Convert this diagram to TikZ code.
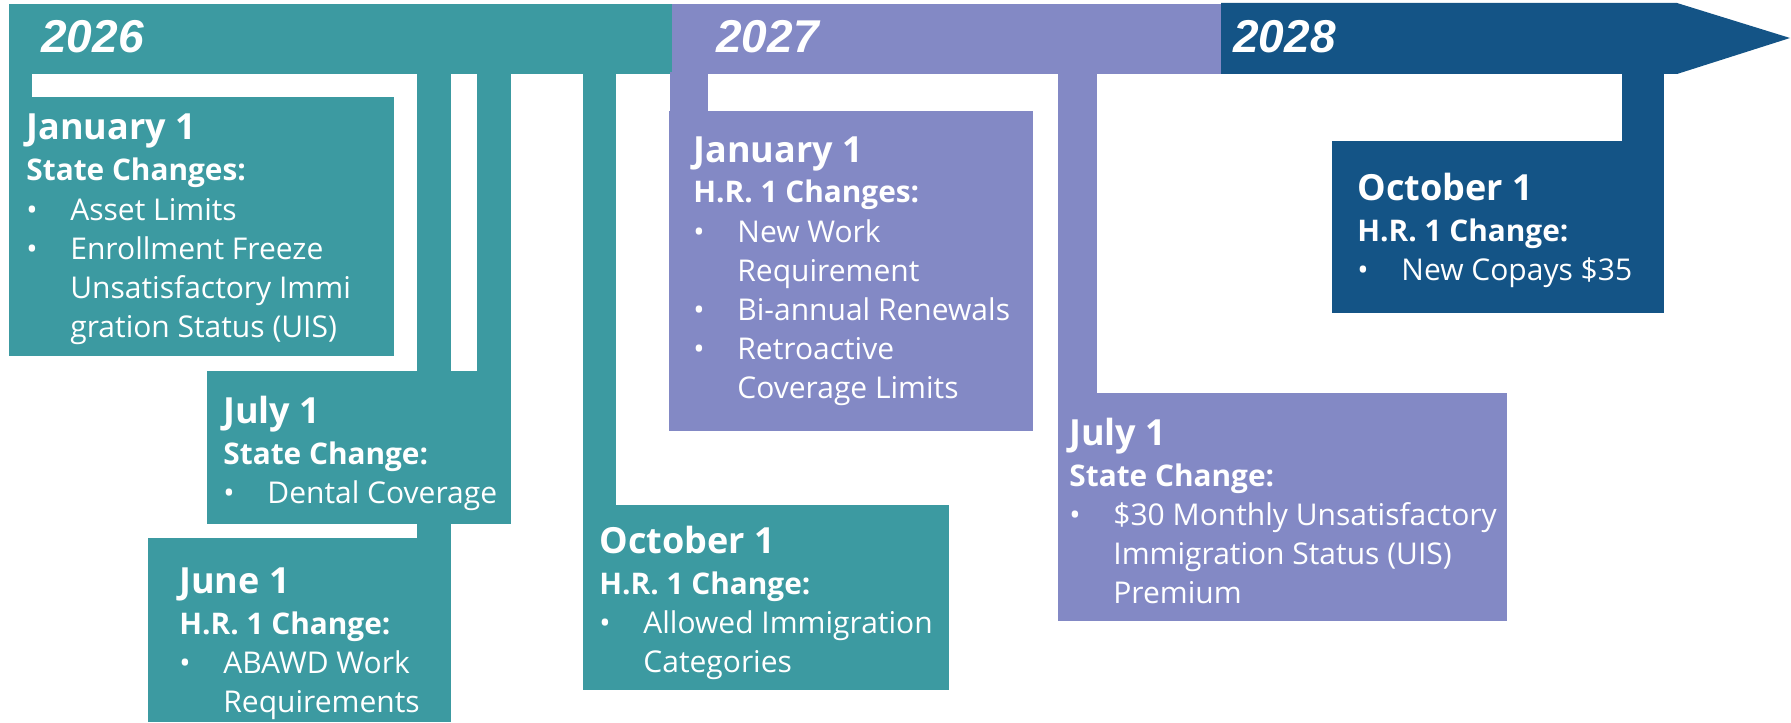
\documentclass[tikz,border=0pt]{standalone}
\usepackage{fontspec}
\setmainfont{Open Sans}
\newfontfamily\yearfont{Liberation Sans}
\usetikzlibrary{fit}
\definecolor{tealc}{RGB}{60,154,161}
\definecolor{purpc}{RGB}{131,137,197}
\definecolor{navyc}{RGB}{20,84,134}
\newcommand\hd[1]{{\fontsize{18}{19.5}\selectfont\bfseries #1\par}\vspace{1pt}}
\newcommand\sh[1]{{\fontsize{14.9}{19.5}\selectfont\bfseries #1\par}}
\newcommand\bu[1]{\makebox[22pt][l]{•}#1\par}
\newcommand\cn[1]{\hspace*{22pt}#1\par}
\newcommand\tb[1]{\parbox[t]{320pt}{\raggedright\fontsize{15}{19.5}\selectfont\lineskiplimit=-100pt\parindent=0pt\parskip=0pt #1}}
\begin{document}
\begin{tikzpicture}[x=0.5pt,y=-0.5pt,
  boxn/.style={inner sep=0pt, draw=none},
  txt/.style={anchor=base west, inner sep=0pt, text=white},
  yr/.style={anchor=base west, inner sep=0pt, text=white, font=\yearfont\bfseries\itshape\fontsize{23}{26}\selectfont}]
\useasboundingbox (0,0) rectangle (1791,722);
% band
\fill[tealc] (9,4) rectangle (672,74);
\fill[purpc] (672,4) rectangle (1221,74);
\fill[navyc] (1221,3) -- (1677,3) -- (1790,38) -- (1677,74) -- (1221,74) -- cycle;
\node[yr] (y26) at (41,53) {2026};
\node[yr] (y27) at (716,53) {2027};
\node[yr] (y28) at (1233,53) {2028};
% boxes
\node[boxn, fill=tealc, fit={(9,97)(394,356)}] (jan26) {};
\node[boxn, fill=tealc, fit={(207,371)(511,524)}] (jul26) {};
\node[boxn, fill=tealc, fit={(148,538)(451,722)}] (jun26) {};
\node[boxn, fill=tealc, fit={(583,505)(949,690)}] (oct26) {};
\node[boxn, fill=purpc, fit={(669,111)(1033,431)}] (jan27) {};
\node[boxn, fill=purpc, fit={(1058,393)(1507,621)}] (jul27) {};
\node[boxn, fill=navyc, fit={(1332,141)(1664,313)}] (oct28) {};
% stems
\fill[tealc] (9,72) rectangle (32,98);
\fill[tealc] (417,72) rectangle (451,539);
\fill[tealc] (477,72) rectangle (511,372);
\fill[tealc] (583,72) rectangle (616,506);
\fill[purpc] (670,72) rectangle (708,112);
\fill[purpc] (1058,72) rectangle (1097,394);
\fill[navyc] (1622,72) rectangle (1664,142);
% texts
\node[txt] (t1) at (26,140) {\tb{\hd{January 1}\sh{State Changes:}\bu{Asset Limits}\bu{Enrollment Freeze}\cn{Unsatisfactory Immi}\cn{gration Status (UIS)}}};
\node[txt] (t2) at (223,423) {\tb{\hd{July 1}\sh{State Change:}\bu{Dental Coverage}}};
\node[txt] (t3) at (179,593) {\tb{\hd{June 1}\sh{H.R. 1 Change:}\bu{ABAWD Work}\cn{Requirements}}};
\node[txt] (t4) at (599,553) {\tb{\hd{October 1}\sh{H.R. 1 Change:}\bu{Allowed Immigration}\cn{Categories}}};
\node[txt] (t5) at (693,162) {\tb{\hd{January 1}\sh{H.R. 1 Changes:}\bu{New Work}\cn{Requirement}\bu{Bi-annual Renewals}\bu{Retroactive}\cn{Coverage Limits}}};
\node[txt] (t6) at (1069,445) {\tb{\hd{July 1}\sh{State Change:}\bu{\$30 Monthly Unsatisfactory}\cn{Immigration Status (UIS)}\cn{Premium}}};
\node[txt] (t7) at (1357,200) {\tb{\hd{October 1}\sh{H.R. 1 Change:}\bu{New Copays \$35}}};
\end{tikzpicture}
\end{document}
